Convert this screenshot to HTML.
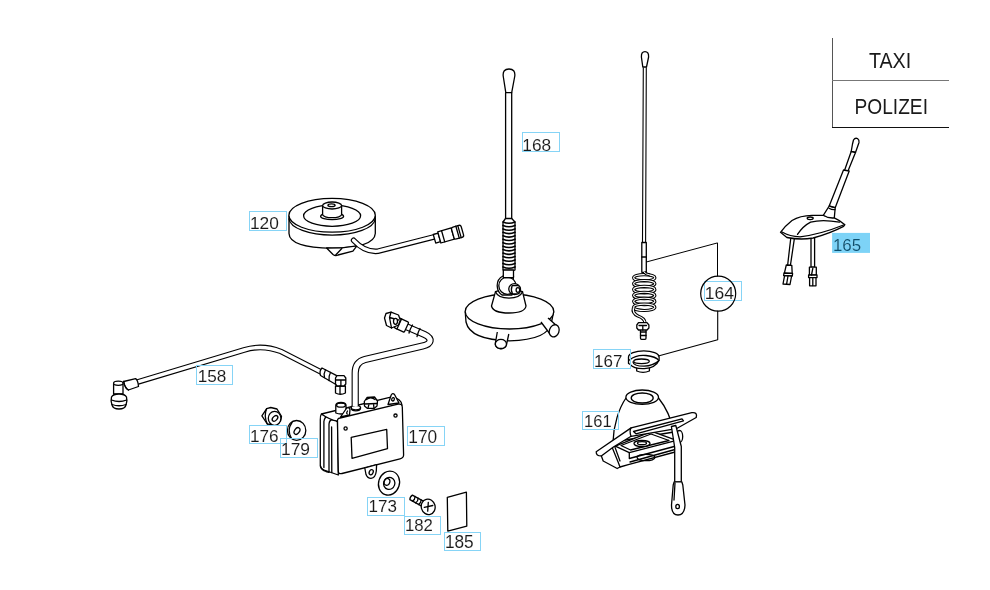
<!DOCTYPE html>
<html><head><meta charset="utf-8">
<style>
html,body{margin:0;padding:0;background:#fff;width:990px;height:590px;overflow:hidden}
svg{position:absolute;left:0;top:0}
.l{fill:none;stroke:#000;stroke-width:1.3;stroke-linejoin:round;stroke-linecap:round}
.w{fill:#fff;stroke:#000;stroke-width:1.3;stroke-linejoin:round}
.lb{fill:none;stroke:#86d4f6;stroke-width:1}
.t{font-family:"Liberation Sans",sans-serif;font-size:100px;fill:#111;stroke:#fff;stroke-width:0.4px;paint-order:normal}
.big{font-family:"Liberation Sans",sans-serif;font-size:19.5px;fill:#111}
.t2{font-family:"Liberation Sans",sans-serif;font-size:100px;fill:#111}
</style></head><body>
<svg width="990" height="590" viewBox="0 0 990 590">

<!-- TABLE -->
<g style="will-change:transform">
<line x1="832.5" y1="38" x2="832.5" y2="127" stroke="#555" stroke-width="1"/>
<line x1="832" y1="80.5" x2="949" y2="80.5" stroke="#777" stroke-width="1"/>
<line x1="832" y1="127.5" x2="949" y2="127.5" stroke="#111" stroke-width="1"/>
<text class="t2" transform="matrix(0.19706,0,0,0.21884,868.91,68.30)" style="fill:#1a1a1a">TAXI</text>
<text class="t2" transform="matrix(0.19153,0,0,0.21268,854.57,114.39)" style="fill:#1a1a1a">POLIZEI</text>
</g>


<!-- 120 DISK -->
<g>
<path class="w" d="M289,215.5 L289,233.5 Q289.5,247.5 332.1,248.3 Q374.5,247.5 375.3,233.5 L375.3,215.5"/>
<ellipse class="w" cx="332.1" cy="215.3" rx="43.2" ry="16.9"/>
<path class="l" d="M289,219 A43.2,16.9 0 0 0 375.3,219"/>
<ellipse class="l" cx="332.1" cy="215.75" rx="28.5" ry="10.55"/>
<ellipse class="w" cx="332.1" cy="216.3" rx="11.5" ry="3.4"/>
<path class="w" d="M322.6,205.5 L322.6,214.5 A9.5,3.2 0 0 0 341.6,214.5 L341.6,205.5"/>
<ellipse class="w" cx="332.1" cy="205.5" rx="9.5" ry="3.5"/>
<ellipse class="l" cx="331.5" cy="205.3" rx="3.6" ry="1.4"/>
<path class="w" d="M326.6,248 L333,254.5 Q335.5,256.5 338,255 L352.9,251.2 L356.9,245.9 L341.8,247.8 Z"/>
<line class="l" x1="335.7" y1="255" x2="341.8" y2="248.5"/>
<path d="M353.6,240.3 Q365,252.5 378,251.2 L434.8,236.7" fill="none" stroke="#000" stroke-width="5.6" stroke-linecap="round"/>
<path d="M353.6,240.3 Q365,252.5 378,251.2 L434.8,236.7" fill="none" stroke="#fff" stroke-width="3.3" stroke-linecap="round"/>
<g transform="translate(434.5,238.8) rotate(-16)">
<rect class="w" x="0" y="-4.5" width="5" height="9"/>
<rect class="w" x="5" y="-5.8" width="14" height="11.6"/>
<line class="l" x1="9" y1="-5.8" x2="9" y2="5.8"/>
<rect class="w" x="19" y="-6.2" width="10" height="12.4" rx="2"/>
<line class="l" x1="24" y1="-6.2" x2="24" y2="6.2"/>
<line class="l" x1="26" y1="-6.2" x2="26" y2="6.2"/>
</g>
</g>


<!-- 168 ANTENNA -->
<g>
<path class="w" d="M505.8,92.7 L503.2,76 Q502.5,69 509,69 Q515.5,69 514.8,76 L511.7,92.7 Z"/>
<rect class="w" x="505.6" y="92.7" width="6.1" height="126"/>
<path class="w" d="M505.5,218.5 L503,222 L503,270 Q509,273 515,270 L515,222 L511.7,218.5 Z"/>
<path class="l" style="stroke-width:1.6" d="M503,222.0 Q509,224.6 515,222.0"/><path class="l" style="stroke-width:1.6" d="M503,225.4 Q509,228.0 515,225.4"/><path class="l" style="stroke-width:1.6" d="M503,228.9 Q509,231.5 515,228.9"/><path class="l" style="stroke-width:1.6" d="M503,232.3 Q509,234.9 515,232.3"/><path class="l" style="stroke-width:1.6" d="M503,235.8 Q509,238.4 515,235.8"/><path class="l" style="stroke-width:1.6" d="M503,239.2 Q509,241.8 515,239.2"/><path class="l" style="stroke-width:1.6" d="M503,242.7 Q509,245.3 515,242.7"/><path class="l" style="stroke-width:1.6" d="M503,246.2 Q509,248.8 515,246.2"/><path class="l" style="stroke-width:1.6" d="M503,249.6 Q509,252.2 515,249.6"/><path class="l" style="stroke-width:1.6" d="M503,253.1 Q509,255.7 515,253.1"/><path class="l" style="stroke-width:1.6" d="M503,256.5 Q509,259.1 515,256.5"/><path class="l" style="stroke-width:1.6" d="M503,259.9 Q509,262.6 515,259.9"/><path class="l" style="stroke-width:1.6" d="M503,263.4 Q509,266.0 515,263.4"/><path class="l" style="stroke-width:1.6" d="M503,266.9 Q509,269.5 515,266.9"/>
<rect class="w" x="504.2" y="270.5" width="8.2" height="8"/>
<!-- base disk -->
<path class="w" d="M465.2,311.5 L466,322 Q470,340 509.5,340.8 Q549,340 551.5,322 L553.7,311.5"/>
<ellipse class="w" cx="509.5" cy="311.5" rx="44.3" ry="17.5"/>
<!-- legs -->
<path class="w" d="M497.3,332 L495.4,343 A5.6,4.7 0 0 0 506.4,345 L508.8,334"/>
<ellipse class="w" cx="500.9" cy="343.9" rx="5.6" ry="4.6"/>
<path class="w" d="M541,322 L550,334 A5,6.5 0 0 0 557,326 L548,318"/>
<ellipse class="w" cx="554.2" cy="330.8" rx="4.8" ry="6.2" transform="rotate(20 554.2 330.8)"/>
<!-- dome -->
<path class="w" d="M495.5,291.6 L491.5,306 Q493,313 509,313 Q525,313 526,306 L522.5,291.6 Q509,286 495.5,291.6 Z"/>
<path class="l" d="M495.5,291.8 Q498,298 509,298.2 Q520,298 522.5,291.8"/>
<!-- ball -->
<path class="w" d="M503,276 Q497,279 497.2,286 Q497.5,292 502,295 L512,295 L513.5,276 Z"/>
<circle class="w" cx="507.4" cy="285.7" r="8.6"/>
<rect class="w" x="503.3" y="270" width="10.2" height="7.6"/>
<line class="l" x1="505" y1="277.6" x2="512" y2="277.6"/>
<ellipse class="w" cx="514.5" cy="289.1" rx="5.75" ry="5.4"/>
<path class="w" d="M512.1,285.7 L517.5,285.5 Q520.8,286.5 520.5,290 Q520,293.8 517.5,293.9 L512.5,293.9 Q510.5,290 512.1,285.7 Z"/>
<ellipse class="l" cx="517.9" cy="290" rx="1.8" ry="2.3"/>
</g>


<!-- 164 ANTENNA -->
<g>
<path class="w" d="M642.8,67 L641.4,57 Q641.2,51.6 645,51.6 Q648.8,51.6 648.6,57 L646.5,67 Z"/>
<path d="M643.3,67.5 L642.5,242.5 M646.3,67.5 L645.6,242.5" fill="none" stroke="#000" stroke-width="1.1"/>
<rect class="w" x="641.8" y="242.5" width="4.5" height="29.8"/>
<line class="l" x1="641.8" y1="257" x2="646.3" y2="257"/>
<path d="M644,274.6 A10.6,3.2 0 1 0 644.5,281.0 A10.6,3.2 0 0 0 644,274.6" fill="none" stroke="#000" stroke-width="3.2"/><path d="M644,274.6 A10.6,3.2 0 1 0 644.5,281.0 A10.6,3.2 0 0 0 644,274.6" fill="none" stroke="#fff" stroke-width="1.1"/><path d="M644,280.5 A10.6,3.2 0 1 0 644.5,286.9 A10.6,3.2 0 0 0 644,280.5" fill="none" stroke="#000" stroke-width="3.2"/><path d="M644,280.5 A10.6,3.2 0 1 0 644.5,286.9 A10.6,3.2 0 0 0 644,280.5" fill="none" stroke="#fff" stroke-width="1.1"/><path d="M644,286.4 A10.6,3.2 0 1 0 644.5,292.8 A10.6,3.2 0 0 0 644,286.4" fill="none" stroke="#000" stroke-width="3.2"/><path d="M644,286.4 A10.6,3.2 0 1 0 644.5,292.8 A10.6,3.2 0 0 0 644,286.4" fill="none" stroke="#fff" stroke-width="1.1"/><path d="M644,292.3 A10.6,3.2 0 1 0 644.5,298.7 A10.6,3.2 0 0 0 644,292.3" fill="none" stroke="#000" stroke-width="3.2"/><path d="M644,292.3 A10.6,3.2 0 1 0 644.5,298.7 A10.6,3.2 0 0 0 644,292.3" fill="none" stroke="#fff" stroke-width="1.1"/><path d="M644,298.2 A10.6,3.2 0 1 0 644.5,304.6 A10.6,3.2 0 0 0 644,298.2" fill="none" stroke="#000" stroke-width="3.2"/><path d="M644,298.2 A10.6,3.2 0 1 0 644.5,304.6 A10.6,3.2 0 0 0 644,298.2" fill="none" stroke="#fff" stroke-width="1.1"/><path d="M644,304.1 A10.6,3.2 0 1 0 644.5,310.5 A10.6,3.2 0 0 0 644,304.1" fill="none" stroke="#000" stroke-width="3.2"/><path d="M644,304.1 A10.6,3.2 0 1 0 644.5,310.5 A10.6,3.2 0 0 0 644,304.1" fill="none" stroke="#fff" stroke-width="1.1"/>
<path d="M644,272 Q646,274.5 650,275" fill="none" stroke="#000" stroke-width="3"/>
<path d="M644,272 Q646,274.5 650,275" fill="none" stroke="#fff" stroke-width="1"/>
<path d="M633.5,308 Q632,313 638,316 Q645,318.5 645,323" fill="none" stroke="#000" stroke-width="3.4" stroke-linecap="butt"/>
<path d="M633.5,308 Q632,313 638,316 Q645,318.5 645,323" fill="none" stroke="#fff" stroke-width="1.3" stroke-linecap="butt"/>
<rect class="w" x="640.5" y="328" width="5.5" height="11.3" rx="1"/>
<line class="l" x1="640.5" y1="332" x2="646" y2="332"/>
<line class="l" x1="640.5" y1="335.5" x2="646" y2="335.5"/>
<path class="w" d="M636.8,325 L638.5,322.6 L647,322.6 L648.9,325 L648.9,328 L647,330 L638.5,330 L636.8,328 Z"/>
<path class="l" d="M639,325.5 L646.5,325.5 M642.8,325.5 L642.8,330"/>
</g>

<!-- 167 RING -->
<g>
<path class="w" d="M636.7,366.5 L636.7,371 Q643,373.8 649.4,371 L649.4,366.5 Z"/>
<path class="w" d="M628.5,357 A15.3,6.2 0 0 1 659.1,357 L659.1,360 Q656,367.8 644.3,368.6 Q634,369 630,364.3 L628.5,363.5 Z"/>
<path class="l" d="M629.5,360 Q636,354.5 646,355.5 Q656,356.5 658.8,360.5"/>
<path class="l" d="M633,362 Q633.5,366.2 644,366.2 Q653,366 658.8,360.8"/>
<ellipse class="l" cx="641.5" cy="361.3" rx="7.8" ry="2.3"/>
</g>



<!-- 161 MOUNT -->
<g>
<!-- dome -->
<path class="w" d="M626,398 C619,408 613.5,425 613,442 L674,432 C671,418 665,406 658.5,398 Z"/>
<ellipse class="w" cx="642.2" cy="397.2" rx="16.3" ry="7.2"/>
<ellipse class="l" cx="642.2" cy="398" rx="11" ry="5"/>
<!-- side plate + base -->
<path class="w" d="M601,455 L603.2,461 L617.2,468.5 L620,467 L628.3,464.7 L677,451.5 L677,440 L614,446 Z"/>
<path class="l" d="M612,447 L618.1,462 L620,467 M614.4,445.6 L620,461 M629.3,452.6 L629.3,458.5 L676,446"/>
<path class="l" d="M630,462 L675,449.5"/>
<ellipse class="l" cx="646" cy="457.5" rx="9" ry="3.2"/>
<!-- tray frame -->
<path class="w" d="M615.3,446.1 L651.7,431.4 L676.6,440.3 L629.3,452.6 Z"/>
<path class="l" d="M621,445.5 L651,434 L669,440.5 L630.5,450 Z"/>
<ellipse class="w" cx="642" cy="443.5" rx="8" ry="3"/>
<ellipse class="l" cx="642" cy="443.2" rx="4.5" ry="1.5"/>
<!-- ring behind strap -->
<ellipse class="w" cx="679.5" cy="436.5" rx="3.2" ry="6"/>
<!-- lever bar -->
<path class="w" d="M596.2,451.7 L631.1,427.9 L691.8,412.7 Q697.8,412 696.2,417.5 L676.3,428.7 L631.1,436.3 L613.4,447 L601.3,455.9 Q596,456 596.2,451.7 Z"/>
<path class="l" d="M633.5,431.5 L682,418.8 L683.5,420.8 L636,433.8 Z"/>
<path class="l" d="M631.1,427.9 Q629,431 631.1,436.3"/>
<!-- strap -->
<path class="w" d="M671.4,426.5 L675.8,425.5 L681.3,446.5 L681.3,481.8 L674.7,481.8 L674.7,447.5 Z"/>
<path class="w" d="M674.2,481.8 L681.8,481.8 L682.8,485 L685,505 Q684.5,515 678,515 Q671.5,515 671.5,505 L673.2,485 Z"/>
<path class="l" d="M675,483 L674,500"/>
<ellipse class="l" cx="677.6" cy="506.5" rx="1.8" ry="2.2"/>
</g>


<!-- 158 CABLE -->
<g>
<path d="M137,382.2 L244,350 Q262,344.2 281,351.5 L322,372.5" fill="none" stroke="#000" stroke-width="5.6" stroke-linecap="butt"/>
<path d="M137,382.2 L244,350 Q262,344.2 281,351.5 L322,372.5" fill="none" stroke="#fff" stroke-width="3.4" stroke-linecap="butt"/>
<!-- left elbow -->
<path class="w" d="M113.6,383.5 L113.6,394 L123,394 L123,383.5"/>
<ellipse class="w" cx="118.3" cy="383.3" rx="4.7" ry="2.1"/>
<path class="w" d="M111.5,397 Q110.5,401 112,405 Q113,409 119,409 Q125,409 126,405 Q127.5,401 126.5,397 Q125,394 119,394 Q113,394 111.5,397 Z"/>
<path class="l" d="M111.5,400 Q119,403 126.7,400 M112,404.5 Q119,407 126,404.5"/>
<path class="w" d="M123.7,381.5 L135.6,378.6 Q138,380 138.5,386.5 L128.4,390 Q125,389 123.7,381.5 Z"/>
<path class="l" d="M123.7,381.5 Q124.5,387 128.4,390"/>
<!-- right end -->
<path class="w" d="M322,368 L336.7,375.6 L335.5,384.3 L320.5,375.5 Q319,371 322,368 Z"/>
<path class="l" d="M325.5,369.8 Q323.5,373.5 324.5,377.5 M330.5,372.5 Q328.5,376 329,380.5"/>
<path class="w" d="M335.5,386 L335.5,393 Q340.5,395.5 345.4,393 L345.4,386 Z"/>
<path class="w" d="M335.5,378 L337,375.6 L344,375.6 L345.8,378 L345.8,384 L344,386 L337,386 L335.5,384 Z"/>
<path class="l" d="M336,380 L345.5,380 M340.9,380 L340.9,386 M340,386 L340,393.5"/>
</g>

<!-- 170 AMPLIFIER -->
<g>
<!-- back layers -->
<path class="w" d="M321.4,414 Q320,416 320.3,420 L320.3,465.5 Q320.5,469 324,470 L338.3,475 L337.5,421.2 Z"/>
<path class="l" d="M323.9,467.5 L323.9,421.5 Q324.5,416.5 328.5,416 Q332.5,416.5 333,419.5"/>
<path class="l" d="M329,472 L329,424 Q329.5,419.5 333,419.5 Q336.5,420 337.5,422"/>
<path class="l" d="M331.8,472.5 L331.6,427"/>
<path class="l" d="M320.5,466 Q321.5,470 326,471.5 L329,472.3"/>
<!-- top surface -->
<path class="w" d="M321.4,414 L390.7,397.1 Q398,397.5 401,402 L402,405.1 L337.5,421.2 Q330,420 321.4,414 Z"/>
<!-- front face -->
<path class="w" d="M337.5,421.2 Q337,418.5 340,418 L398,404.2 Q402,403.5 402.3,407 L403.6,455 Q403.6,458 400,458.8 L342,473.5 Q338.3,474.5 338.3,471 Z"/>
<path class="l" d="M351.2,437.3 L386.7,429.3 L387.5,448.6 L352,458.3 Z"/>
<circle class="l" cx="345.6" cy="428.5" r="1.6"/>
<circle class="l" cx="395.5" cy="415.6" r="1.6"/>
<!-- bottom tab -->
<path class="w" d="M364.8,468 L366,474.5 Q367.5,478.3 371,478.3 Q375.5,478 376.3,471 L376.6,464.6 Z"/>
<ellipse class="l" cx="371.2" cy="472.2" rx="1.9" ry="2.7" transform="rotate(25 371.2 472.2)"/>
<!-- top right tab -->
<path class="w" d="M388,404.5 L391.2,395 Q392.7,392.5 394.5,394.5 L399,403 Z"/>
<ellipse class="l" cx="393" cy="399.3" rx="1.3" ry="1.7" transform="rotate(20 393 399.3)"/>
<!-- tube + washer -->
<path class="w" d="M351.2,407.6 L351.2,408.4 Q351.5,410.8 355.85,410.8 Q360.2,410.8 360.5,408.4 L360.5,407.6 Z"/>
<ellipse class="w" cx="355.85" cy="407.6" rx="4.65" ry="2.3"/>
<path d="M355.2,406 L355.2,373 Q355.2,362 365,359.5 L422.5,346 C431.5,344 433,338.5 424.5,334.5 L406,326.5" fill="none" stroke="#000" stroke-width="7.2" stroke-linecap="butt"/>
<path d="M355.2,406 L355.2,373 Q355.2,362 365,359.5 L422.5,346 C431.5,344 433,338.5 424.5,334.5 L406,326.5" fill="none" stroke="#fff" stroke-width="5" stroke-linecap="butt"/>
<path class="l" d="M407,322.5 Q405,326 403.5,330.5 M412.5,325 Q410,329 409,333 M420,328.5 Q418,332 417,336.5"/>
<!-- end connector of 170 cable -->
<g transform="translate(401.5,325) rotate(25)">
<rect class="w" x="-5.5" y="-5.5" width="11" height="11" rx="1"/>
<line class="l" x1="-2.5" y1="-5.5" x2="-2.5" y2="5.5"/>
</g>
<path class="w" d="M384.5,318 L386,313.5 L391,312.2 L398.5,315 L400.3,320 L398.5,325 L391.5,328 L386.5,325.5 Z"/>
<path class="l" d="M391,312.2 L389.5,317.5 L391.5,328 M389.5,317.5 L398.5,320"/>
<ellipse class="w" cx="395.5" cy="321.3" rx="2" ry="3"/>
<!-- hex nut on top -->
<path class="w" d="M364.3,401.5 L367,397.5 L374.5,397 L377.5,401 L377,406 L374,408.4 L367.5,408.4 L364.5,406 Z"/>
<path class="l" d="M366.5,399.5 Q370.5,396 375,399.5 M364.5,404 L377,403.5 M369,404 L368,408.2 M373.5,403.7 L374,408.2"/>
<!-- left small connector -->
<path class="w" d="M335.8,413 L335.8,405 Q336.5,402.5 341,402.5 Q345.5,402.5 346,405 L346,413 Q341,415 335.8,413 Z"/>
<ellipse class="l" cx="341" cy="405.2" rx="4.4" ry="2"/>
<path class="w" d="M340.5,417 L346,409 Q348.5,406 350,409.5 L349.5,415 Z"/>
<path class="l" d="M347.5,411 Q346,413.5 347.3,414"/>
</g>

<!-- 176 NUT, 179 WASHER -->
<g>
<path class="w" d="M261.9,415.8 L266.7,408.6 L270.8,407.5 L277,409 L281.5,416.3 L280.5,421 L275.6,425.2 L267.3,424 Z"/>
<path class="l" d="M266.7,408.6 Q263.5,416 267.3,424"/>
<ellipse class="w" cx="274.6" cy="418.3" rx="6.3" ry="7"/>
<ellipse class="l" cx="275" cy="418.4" rx="3.3" ry="2.1" transform="rotate(-45 275 418.4)"/>
<ellipse class="w" cx="296.6" cy="430.4" rx="9.2" ry="9.9"/>
<path class="l" d="M292,422.5 Q286.5,430 291.5,438.5"/>
<ellipse class="l" cx="297" cy="431" rx="3.7" ry="2.4" transform="rotate(-55 297 431)"/>
</g>

<!-- 173 WASHER, 182 SCREW, 185 PLATE -->
<g>
<ellipse class="w" cx="389" cy="483.1" rx="10.4" ry="12.2" transform="rotate(18 389 483.1)"/>
<ellipse class="l" cx="389.2" cy="483.4" rx="5.6" ry="6.1" transform="rotate(18 389.2 483.4)"/>
<ellipse class="l" cx="387" cy="481.9" rx="2.8" ry="3.5" transform="rotate(18 387 481.9)"/>
<g transform="translate(428.2,506.8) rotate(29)">
<path class="w" d="M-19.5,-2.6 L-6,-2.6 L-6,2.6 L-19.5,2.6 Q-21,0 -19.5,-2.6 Z"/>
<path class="l" d="M-16.5,-2.7 Q-15,0 -16.5,2.7 M-13,-2.7 Q-11.5,0 -13,2.7 M-9.5,-2.7 Q-8,0 -9.5,2.7"/>
</g>
<ellipse class="w" cx="428.2" cy="506.8" rx="6.9" ry="7.8" transform="rotate(-15 428.2 506.8)"/>
<path class="l" d="M424.3,507.4 L432.8,505.5 M428.3,502.3 L427.7,511.2"/>
<path class="w" d="M447.3,497.3 L466.4,492.2 L466.8,526.1 L447.8,531.2 Z"/>
</g>

<!-- 165 ANTENNA -->
<g>
<path class="w" d="M852.5,144 L853.5,140 Q855,137.5 857.5,138.5 Q859.5,140 859,142.5 L855.5,152.5 L851.2,151.5 Z"/>
<path class="w" d="M851.2,151.5 L844.5,170.5 L848,171 L855.5,152.5 Z"/>
<path class="w" d="M843.5,170 L829.2,206 L835.2,207.7 L849.2,171 Z"/>
<!-- left cable -->
<path class="w" d="M790.9,237 L794.6,237 L790.4,265.5 L787.6,265.5 Z"/>
<path class="w" d="M786.3,265 L791.8,265.3 L792.2,273.5 L784.4,273.2 Z"/>
<path class="w" d="M784,273 L792.6,273.4 L792.3,276 L783.6,275.6 Z"/>
<path class="w" d="M784.6,275.6 L791.6,276 L790,284.5 L783,284 Z"/>
<line class="l" x1="788" y1="276" x2="786.6" y2="284.2"/>
<!-- right cable -->
<rect class="w" x="811" y="237" width="3.6" height="30.2"/>
<rect class="w" x="809.4" y="267.2" width="6.9" height="8"/>
<rect class="w" x="808.6" y="275" width="8.4" height="2.6"/>
<rect class="w" x="809.6" y="277.6" width="6.4" height="8.2"/>
<line class="l" x1="812.8" y1="278" x2="812.8" y2="285.5"/>
<line class="l" x1="812.8" y1="268.5" x2="811.5" y2="275"/>
<!-- base -->
<path class="w" d="M780.5,232.3 Q785,226 792,220.5 Q800,215.5 812,215.3 L823.3,215.3 L834.3,217.9 Q840,220.5 844.9,224.7 L843.6,226.4 Q830,233.5 813.1,238 Q800,240.2 786.9,237.5 Z"/>
<path class="l" d="M782,232 Q790,236.5 800,236.8 Q820,234.5 843.5,225"/>
<path class="l" d="M797.5,234.4 Q803,226 810.6,222.1 Q822,219 839.4,222.1"/>
<ellipse class="l" cx="810.2" cy="218.3" rx="3" ry="1.3"/>
<path class="w" d="M823.3,215.3 L829.2,206 Q832,207.5 835.2,207.7 L834.3,217.9 Q828,218.5 823.3,215.3 Z"/>
<path class="l" d="M829,208.2 Q832,210 835,209.6"/>
</g>

<!-- LABELS -->
<g style="will-change:transform">
<rect class="lb" x="249.5" y="211.5" width="37.0" height="19.0"/>
<text class="t" transform="matrix(0.17355,0,0,0.17042,249.91,229.03)" style="fill:#1a1a1a">120</text>
<rect class="lb" x="522.5" y="132.5" width="37.0" height="19.0"/>
<text class="t" transform="matrix(0.17290,0,0,0.16901,522.32,150.93)" style="fill:#1a1a1a">168</text>
<rect class="lb" x="704.5" y="281.5" width="37.0" height="19.0"/>
<text class="t" transform="matrix(0.17484,0,0,0.16761,704.70,298.83)" style="fill:#1a1a1a">164</text>
<rect class="lb" x="593.5" y="349.5" width="37.0" height="19.0"/>
<text class="t" transform="matrix(0.16968,0,0,0.17042,594.04,366.63)" style="fill:#1a1a1a">167</text>
<rect class="lb" x="582.5" y="411.5" width="36.0" height="18.0"/>
<text class="t" transform="matrix(0.16516,0,0,0.17042,584.08,427.23)" style="fill:#1a1a1a">161</text>
<rect class="lb" x="196.5" y="365.5" width="36.0" height="19.0"/>
<text class="t" transform="matrix(0.17161,0,0,0.16479,197.63,381.74)" style="fill:#1a1a1a">158</text>
<rect class="lb" x="249.5" y="425.5" width="37.0" height="18.0"/>
<text class="t" transform="matrix(0.17161,0,0,0.17324,249.93,442.33)" style="fill:#1a1a1a">176</text>
<rect class="lb" x="280.5" y="438.5" width="37.0" height="19.0"/>
<text class="t" transform="matrix(0.17419,0,0,0.17042,281.01,455.43)" style="fill:#1a1a1a">179</text>
<rect class="lb" x="407.5" y="426.5" width="37.0" height="19.0"/>
<text class="t" transform="matrix(0.17355,0,0,0.18169,408.31,442.72)" style="fill:#1a1a1a">170</text>
<rect class="lb" x="367.5" y="497.5" width="37.0" height="18.0"/>
<text class="t" transform="matrix(0.17032,0,0,0.17183,368.54,512.13)" style="fill:#1a1a1a">173</text>
<rect class="lb" x="404.5" y="516.5" width="36.0" height="18.0"/>
<text class="t" transform="matrix(0.16774,0,0,0.16901,404.96,530.93)" style="fill:#1a1a1a">182</text>
<rect class="lb" x="444.5" y="532.5" width="36.0" height="18.0"/>
<text class="t" transform="matrix(0.17226,0,0,0.17746,444.92,547.52)" style="fill:#1a1a1a">185</text>
<rect x="832.1" y="232.9" width="37.9" height="20" fill="#7dd3f7"/>
<text class="t" transform="matrix(0.16903,0,0,0.16901,832.95,250.63)" style="fill:#0b4f6e">165</text>
</g>

<!-- 164 leader -->
<g>
<polyline class="l" style="stroke-width:1" points="646.7,261.9 717.5,242.9 717.5,276"/>
<circle class="l" style="stroke-width:1.2" cx="718.2" cy="293.6" r="17.5"/>
<polyline class="l" style="stroke-width:1.1" points="717.7,311 717.7,339.7 658.3,356"/>
</g>

</svg>
</body></html>
